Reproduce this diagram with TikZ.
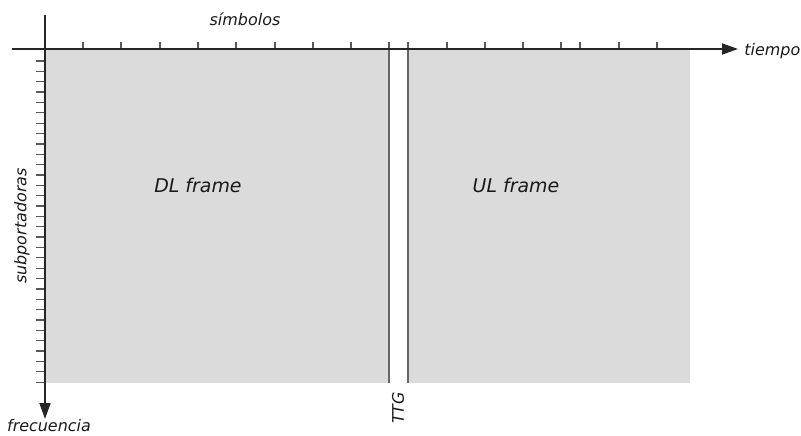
\documentclass[tikz,border=0pt]{standalone}
\usepackage{fontspec}
\setmainfont{DejaVu Sans}
\usetikzlibrary{arrows.meta}

\begin{document}
\begin{tikzpicture}[
    x=1bp, y=-1bp,
    >={Triangle[length=16bp,width=11bp]},
    axisline/.style={->, line width=1.8bp, draw=black!85},
    tickmark/.style={line width=1.3bp, draw=black!65},
    gapline/.style={line width=1.3bp, draw=black!60},
    slot/.style={fill=gray!28},
    lbl/.style={font=\fontsize{16}{19}\selectfont\itshape, text=black!90, inner sep=0pt},
    framelbl/.style={font=\fontsize{19}{23}\selectfont\itshape, text=black!90, inner sep=0pt}
]
\useasboundingbox (0,0) rectangle (801,436);
% frames and guard time
\fill[slot] (45,49) rectangle (389,383);
\fill[slot] (408,49) rectangle (690,383);
\draw[gapline] (389,49) -- (389,383);
\draw[gapline] (408,49) -- (408,383);
% symbol ticks
\foreach \x in {83,121,160,198,236,275,313,351,389,408,447,485,523,561,580,619,657}
  \draw[tickmark] (\x,42) -- (\x,49);
% subcarrier ticks
\foreach \i in {0,...,31}
  \draw[tickmark] (36,{61+10.36*\i}) -- (45,{61+10.36*\i});
% axes
\coordinate (tstart) at (12,49);
\coordinate (tend) at (738,49);
\coordinate (fstart) at (45,15);
\coordinate (fend) at (45,419);
\draw[axisline] (tstart) -- (tend);
\draw[axisline] (fstart) -- (fend);
% labels
\node[lbl, anchor=east] (tiempo) at (800.5,51) {tiempo};
\node[lbl] (simbolos) at (245,19) {símbolos};
\node[lbl, rotate=90] (subport) at (22,226) {subportadoras};
\node[lbl] (frecuencia) at (49,426) {frecuencia};
\node[lbl, rotate=90] (ttg) at (398,408) {TTG};
\node[framelbl] (dl) at (198,185) {DL frame};
\node[framelbl] (ul) at (516,185) {UL frame};
\end{tikzpicture}
\end{document}
